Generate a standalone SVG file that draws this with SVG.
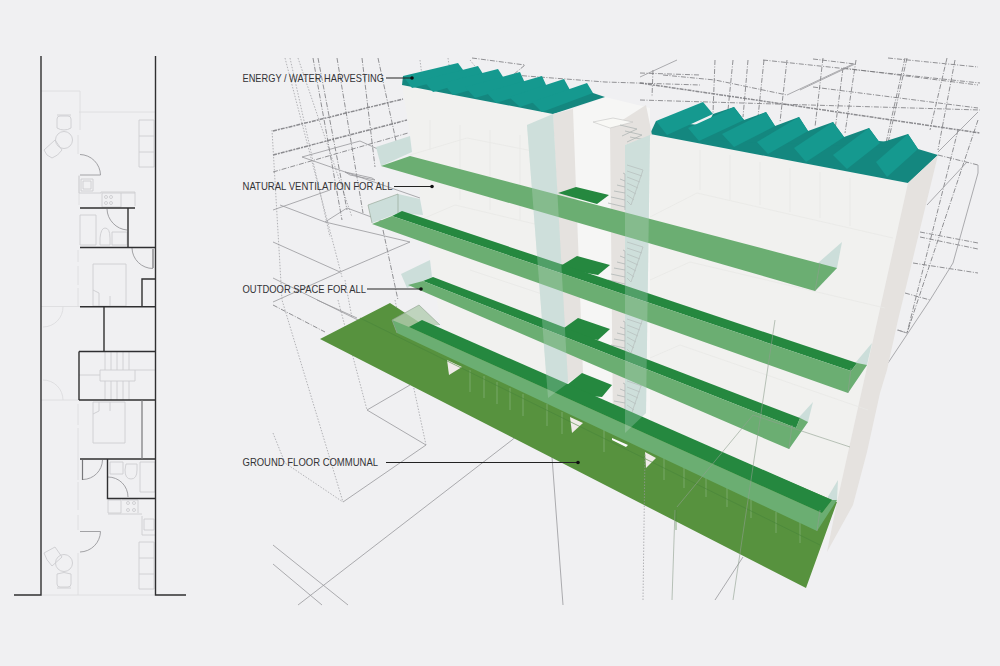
<svg xmlns="http://www.w3.org/2000/svg" width="1000" height="666" viewBox="0 0 1000 666">
<defs>
<style>
text{font-family:"Liberation Sans",Arial,sans-serif;font-size:10.4px;fill:#333336}
.w{stroke:#2f2f31;stroke-width:1.4;fill:none}
.g{stroke:#77777a;stroke-width:1.2;fill:none}
.t{stroke:#dcdcdf;stroke-width:.9;fill:none}
.d{stroke:#cdcdd0;stroke-width:.9;fill:none}
.a{stroke:#98989c;stroke-width:.9;fill:none}
.wl{stroke:#98989c;stroke-width:.8;fill:none}
.wd{stroke:#77777b;stroke-width:.8;stroke-dasharray:5 1.5 1 1.5;fill:none}
.wh{stroke:#8c8c90;stroke-width:1.5;stroke-dasharray:4 1 2 1;fill:none}
.wo{stroke:#98989c;stroke-width:.7;stroke-dasharray:1.5 1.5;fill:none}
.f{stroke:#e8e8e6;stroke-width:.8;fill:none}
.tl{fill:#15998f}.td{fill:#14877f}
.s{fill:#6bae72}.k{fill:#25883f}
.c{fill:#ccdeda}.co{fill:#d2e4df;opacity:.25}
.b{fill:#e5e2df}
.lead{stroke:#222;stroke-width:1;fill:none}
.st{stroke:#b0b6b5;stroke-width:.8;fill:none}
</style>
<g id="flight">
<path class="st" d="M-2 3L0 4M-5 9L0 11M-8 15L0 17M-11 21L0 23M-14 27L0 30M-17 33L0 37M2 -5L18 0M2 1L17 6M2 7L15 12M2 13L13 18M2 19L11 24M2 25L9 30M2 31L6 35M18 0L6 35M0 4V40"/>
</g>
</defs>
<rect width="1000" height="666" fill="#f0f0f2"/>

<g id="floor-plan">
<path class="t" d="M41 91H80V130M79 112H155M78 135V154M79 175V205M78 250V262M78 266V285M78 288V306M41 306.500H80"/>
<path class="d" d="M139 120H154V167H139ZM139 136H154M139 152H154"/>
<circle class="d" cx="64" cy="140" r="8.500"/>
<path class="d" d="M57 119Q57 116 60 116H68Q71 116 71 119V128Q64 132 57 128ZM57 115H71M44 150L55 140L62 150Q58 156 52 158Q46 156 44 150Z"/>
<path class="a" d="M80 154.500A21 21 0 0 1 100.500 175H80"/>
<path class="d" d="M81 179H93V191H81ZM83 181H91V189H83ZM79 176V193H101V192H135V206M102 193H121V207H102ZM121 193H135"/>
<circle class="d" cx="106" cy="197" r="1.500"/><circle class="d" cx="111" cy="197" r="1.500"/><circle class="d" cx="106" cy="203" r="1.500"/><circle class="d" cx="111" cy="203" r="1.500"/>
<path class="d" d="M80 215H96V245H80ZM112 232H127V245H112ZM100 245V238Q101 228 105 228Q110 228 110 238V245Z"/>
<path class="a" d="M107 209A22 22 0 0 0 127 230"/>
<path class="a" d="M132 248A21 21 0 0 0 153 268.500"/>
<path class="g" d="M153 249V268"/>
<path class="d" d="M93 264H126V306H93ZM93 290L99 293V306M110 296V306"/>
<path class="t" d="M43 327A20 20 0 0 0 63 306.500"/>
<path class="t" d="M43 380A20 20 0 0 1 63 400M41 400H79M78 404V425M78 428V480M78 482V510M78 515V530M78 553V595M41 595H155"/>
<path class="d" d="M79 375H100M135 370H155M105 351V370M111 351V370M117 351V370M123 351V370M129 351V370M105 381V400M111 381V400M117 381V400M123 381V400M129 381V400M100 370H135V381H100Z"/>
<path class="d" d="M93 402V443H125V402M93 402H125M93 414L99 411V402M110 402V411"/>
<path class="a" d="M83 479.500A20 20 0 0 0 102.500 460"/>
<path class="g" d="M82.500 460V480"/>
<path class="a" d="M108 477A20 20 0 0 1 128 497"/>
<path class="d" d="M110 462H123V474H110ZM140 462H155V492H140ZM126 464H137V470Q137 479 131 479Q125 479 125 470Z"/>
<path class="d" d="M108 500H121V513H108ZM122 500H138V513M142 516V535H155M144 519H154V530H144ZM108 514H142"/>
<circle class="d" cx="128" cy="503" r="1.500"/><circle class="d" cx="134" cy="503" r="1.500"/><circle class="d" cx="128" cy="510" r="1.500"/><circle class="d" cx="134" cy="510" r="1.500"/>
<path class="a" d="M80 531.500H100.500A21 21 0 0 1 80 552"/>
<path class="d" d="M139 542H154V589H139ZM139 558H154M139 574H154"/>
<circle class="d" cx="64" cy="563" r="8.500"/>
<path class="d" d="M57 574Q64 571 71 574V584Q71 587 68 587H60Q57 587 57 584ZM57 588H71M44 553L55 547L62 557L52 566Q46 560 44 553Z"/>
<path class="w" d="M41 56V595H14M155.500 56V595H186"/>
<path class="w" d="M80 208H135M128 208V247.500M80 247.500H155M80 306.700H155M142 306.700V279H155M104 306.700V351.500M79 351.500H155M79 351.500V400M79 400H155M80 459H155M107.500 459V498.500H155"/>
<path class="g" d="M142 400V459"/>
</g>

<g id="wireframe">
<path class="wh" d="M273 131L403 99M273 155L407 120M640 83L980 133"/>
<path class="wd" d="M273 172L408 133M273 305L325 332M472 58L525 65L513 75M513 75L605 82L700 85M663 75L715 80L787 95M763 60L980 83M843 68L978 85M813 87L978 108M888 58L978 67M813 59L855 64M938 155L978 165M920 232L978 243M920 237L978 249M913 263L978 273M905 293L930 300M898 330L907 333M640 73L700 75M640 100L980 110"/>
<path class="wo" d="M272 130L282 300L343 502M273 433L285 463L343 502M338 300L367 410M395 300L426 445M285 58L342 277M290 58L330 237M298 58L352 217M420 60L425 100M448 58L452 85M470 60L478 70M345 280L352 318"/>
<path class="wd" d="M313 58L342 220M318 58L347 210M337 58L363 213M362 58L375 167M378 58L398 150M383 230L398 300M653 70L652 97M715 60L713 113M733 60L728 110M748 60L743 117M764 60L758 117M787 60L780 122M823 58L815 127M843 68L835 130M856 60L845 133M907 58L888 143M905 58L886 143M947 58L930 130M955 60L938 150M958 130L907 333M978 120L907 333"/>
<path class="wl" d="M302 157L360 141L380 150M302 157L420 198M345 172L372 178L375 180L350 175ZM273 210L330 190M280 205L325 222L347 208L420 235M325 222L410 242L340 272L273 302M273 242L340 272M273 278L358 320M317 300L357 318M367 410L426 445L343 502M367 410L410 385M298 605L512 440L547 410M273 545L348 605M273 564L322 605M552 457L563 605M978 112L938 152M967 162L927 205M978 165L978 173L953 263L930 300L888 363M855 64L800 90M677 60L640 77M787 95L853 64M907 333L897 330M715 600L743 557"/>
</g>

<g id="building">
<polygon fill="#f1f1ef" points="402,85 553,114 650,130 650,134 908,183 837,502 815,570 640,480 560,440 450,380"/>
<polygon fill="#f6f6f5" points="573,109 605,97 650,108 650,134 650,460 575,425"/>
<g id="roof-left">
<polygon class="td" points="402,85 553,114 605,97 593,93 403,76"/>
<polygon class="tl" points="403,76 458,63 466,74 412,88"/>
<polygon class="tl" points="423,80 478,66 485,77 433,92"/>
<polygon class="tl" points="443,83 498,69 505,80 453,95"/>
<polygon class="tl" points="465,87 520,72 525,83 475,98"/>
<polygon class="tl" points="486,92 542,76 547,87 496,103"/>
<polygon class="tl" points="509,97 564,79 570,90 520,107"/>
<polygon class="tl" points="532,102 587,83 593,93 542,112"/>
</g>
<g id="roof-right">
<polygon class="td" points="650,134 908,183 938,155 918,149 890,142 656,121"/>
<polygon class="td" points="713,114 734,107 744,120 766,112 775,126 799,117 808,131 833,122 844,137 869,128 880,143 908,134 918,149 700,140"/>
<polygon class="tl" points="656,121 703,102 713,114 667,135"/>
<polygon class="tl" points="688,128 734,107 744,120 699,141"/>
<polygon class="tl" points="722,134 766,112 775,126 734,147"/>
<polygon class="tl" points="757,142 799,117 808,131 768,154"/>
<polygon class="tl" points="794,148 833,122 844,137 806,162"/>
<polygon class="tl" points="833,155 869,128 880,143 847,169"/>
<polygon class="tl" points="876,162 908,134 918,149 887,177"/>
</g>
<polygon class="b" points="908,183 938,155 898,320 887,370 880,393 867,452 853,505 827,552 837,502"/>
<polygon class="b" points="553,114 573,109 583,373 567,383"/>
<polygon class="b" points="610,128 646,105 652,135 625,145 625,433 613,425"/>
<polygon fill="#f8f8f5" stroke="#c4c4c2" stroke-width=".6" points="593,122 613,118 633,122 610,128"/>
<path class="st" d="M620 125L637 129L622 136M625 131L642 135L627 142M630 137L646 140L632 147"/>
<path class="f" d="M467 138L553 155M467 138L410 155M697 193L893 238M697 193L650 217M455 205L560 230M455 205L420 220M690 262L885 308M690 262L650 280M470 270L560 300M680 345L868 410M680 345L650 358M430 120V150M460 125V200M490 130V210M520 135V220M700 150V190M730 155V200M760 162V205M790 168V212M820 172V218M850 178V226"/>
<polygon class="c" points="527,125 553,114 568,383 548,398"/>
<polygon class="c" points="625,145 650,135 646,413 625,433"/>
<g id="stairs">
<use href="#flight" x="625" y="170"/>
<use href="#flight" x="625" y="247"/>
<use href="#flight" x="625" y="318"/>
<use href="#flight" x="625" y="380"/>
</g>
<polygon class="c" points="376,147 410,136 412,152 381,166"/>
<polygon class="c" points="368,205 398,194 420,199 423,215 398,213 372,223"/>
<polygon class="c" points="401,274 430,260 432,277 407,288"/>
<polygon class="c" points="842,242 837,268 815,291 818,263"/>
<polygon class="c" points="872,343 867,365 848,393 851,368"/>
<polygon class="c" points="813,402 808,422 789,449 792,425"/>
<polygon class="c" points="838,480 837,500 817,531 820,510"/>
<polygon fill="#57923e" points="320,339 390,303 425,326 837,502 806,588"/>
<polygon fill="#b3cdb0" opacity=".8" points="392,320 419,305 440,325 408,327 397,333"/>
<polygon fill="#f0ebe8" points="447,360 462,367 449,375"/>
<polygon fill="#f0ebe8" points="570,417 583,423 572,433"/>
<polygon fill="#f0ebe8" points="645,452 656,458 646,468"/>
<polygon fill="#fbfbfb" points="612,438 628,445 626,447 612,440"/>
<path stroke="#86b27c" stroke-width=".7" fill="none" d="M470 370V392M484 376V398M497 382V404M510 388V410M523 394V416M547 404V426M562 412V434M604 430V452M664 458V480M684 467V488M706 477V497M727 487V507M751 497V518M776 512V533M800 522V543"/>
<path stroke="#48843a" stroke-width=".6" fill="none" d="M360 318L820 545M676 510V530"/>
<g id="strips">
<polygon class="k" points="558,193 576,187 609,195 597,204"/>
<polygon class="s" points="381,166 410,156 837,268 815,291"/>
<polygon class="k" points="557,268 577,256 610,265 598,275"/>
<polygon class="k" points="402,211 857,363 851,371 392,216"/>
<polygon class="s" points="372,224 392,216 851,371 857,363 867,365 848,393"/>
<polygon class="k" points="557,333 578,318 610,329 598,340"/>
<polygon class="k" points="423,281 433,277 800,418 796,428"/>
<polygon class="s" points="408,285 423,281 796,428 800,418 808,422 789,449"/>
<polygon class="k" points="557,393 582,373 612,385 602,397"/>
<polygon class="k" points="409,327 422,320 832,500 822,513"/>
<polygon class="s" points="397,333 392,320 409,327 822,513 832,500 837,500 817,531"/>
</g>
<polygon class="co" points="527,125 553,114 568,383 548,398"/>
<polygon class="co" points="625,145 650,135 646,413 625,433"/>
<path stroke="#8fa08f" stroke-width=".6" fill="none" d="M398 194L398 213M372 223L368 205L398 194M392 320L397 333M392 320L419 305L440 325M775 320L733 600M672 600L675 510M753 415L677 507M753 415L850 447M815 291L820 263M789 449L792 425M817 531L820 510M848 393L851 368"/>
<path class="wo" d="M643 600L645 453"/>
</g>

<g id="labels">
<text x="242.500" y="81.500" textLength="141.500" lengthAdjust="spacingAndGlyphs">ENERGY / WATER HARVESTING</text>
<text x="242.500" y="190" textLength="150" lengthAdjust="spacingAndGlyphs">NATURAL VENTILATION FOR ALL</text>
<text x="242.500" y="292.500" textLength="123.500" lengthAdjust="spacingAndGlyphs">OUTDOOR SPACE FOR ALL</text>
<text x="242.500" y="465.800" textLength="135.500" lengthAdjust="spacingAndGlyphs">GROUND FLOOR COMMUNAL</text>
</g>
<g id="connectors">
<path class="lead" d="M386 78H412M394 186.500H432M367 289H421M386 462.500H578"/>
<circle cx="412" cy="78" r="1.800" fill="#111"/>
<circle cx="432" cy="186.500" r="1.800" fill="#111"/>
<circle cx="421" cy="289" r="1.800" fill="#111"/>
<circle cx="578" cy="462.500" r="1.800" fill="#111"/>
</g>
</svg>
